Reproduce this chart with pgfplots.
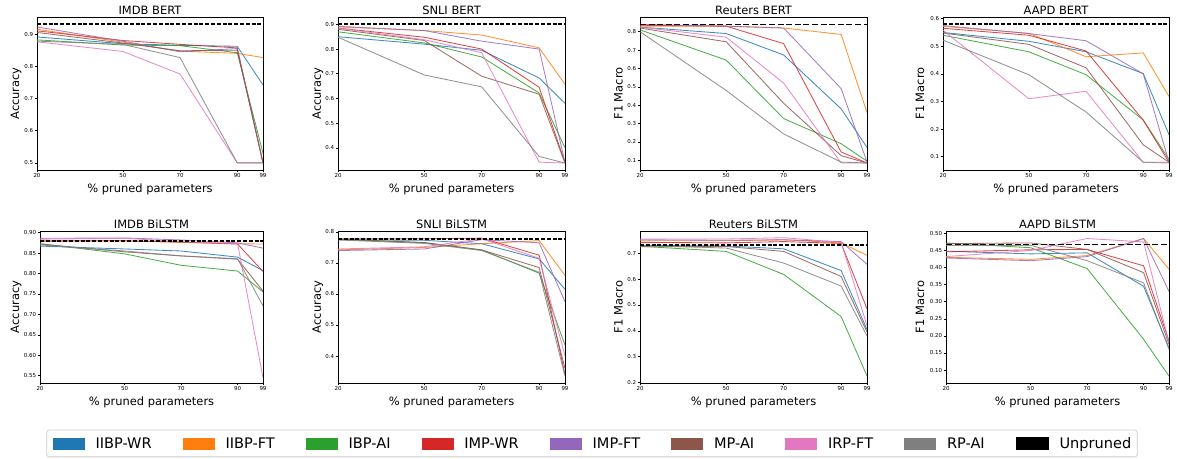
\documentclass[border=0pt]{standalone}
\usepackage{pgfplots}
\pgfplotsset{compat=1.18}
\usepackage{fontspec}
\setmainfont{DejaVu Sans}
\definecolor{c0}{HTML}{1F77B4}
\definecolor{c1}{HTML}{FF7F0E}
\definecolor{c2}{HTML}{2CA02C}
\definecolor{c3}{HTML}{D62728}
\definecolor{c4}{HTML}{9467BD}
\definecolor{c5}{HTML}{8C564B}
\definecolor{c6}{HTML}{E377C2}
\definecolor{c7}{HTML}{7F7F7F}
\definecolor{legbd}{HTML}{CCCCCC}
\pgfplotsset{
  every axis title shift=0pt,
  panel/.style={
    scale only axis, anchor=south west,
    xmin=20, xmax=99, xtick={20,50,70,90,99},
    tick align=outside, xtick pos=bottom, ytick pos=left,
    major tick length=2.2bp,
    every tick/.style={black, line width=0.5bp},
    axis line style={black, line width=0.9bp},
    ticklabel style={font=\fontsize{5.5}{6}\selectfont, inner sep=1.5bp},
    /pgf/number format/assume math mode=true,
    title style={font=\fontsize{11.5}{13}\selectfont, at={(axis description cs:0.5,1)}, anchor=base, yshift=2.4bp, inner sep=0pt},
    xlabel={\% pruned parameters},
    xlabel style={font=\fontsize{11.5}{13}\selectfont, at={(axis description cs:0.5,0)}, anchor=base, yshift=-22.3bp, inner sep=0pt},
    every axis plot/.append style={line width=0.85bp, no markers, opacity=0.85},
    cycle list={{c0},{c1},{c2},{c3},{c4},{c5},{c6},{c7}},
  },
  ylab/.style={ylabel style={font=\fontsize{11.5}{13}\selectfont, at={(axis description cs:-#1,0.5)}, anchor=base, inner sep=0pt}},
  yprec/.style={yticklabel={\pgfmathprintnumber[fixed,fixed zerofill,precision=#1]{\tick}}},
  unthick/.style={black, opacity=1, line width=1.8bp, dash pattern=on 4bp off 1.8bp},
  unthin/.style={black, opacity=1, line width=1.2bp, dash pattern=on 6bp off 2.6bp},
}
\begin{document}
\begin{tikzpicture}[x=1bp,y=1bp]
\useasboundingbox (0,0) rectangle (1177,459);
% ---------------- IMDB BERT
\begin{axis}[panel, at={(37bp,289bp)}, width=226bp, height=153bp,
  title={IMDB BERT}, ylabel={Accuracy}, ylab=0.0788, yprec=1,
  ymin=0.478, ymax=0.953, ytick={0.5,0.6,0.7,0.8,0.9}]
\addplot coordinates {(20,0.891) (50,0.870) (70,0.865) (90,0.862) (99,0.742)};
\addplot coordinates {(20,0.915) (50,0.875) (70,0.847) (90,0.840) (99,0.827)};
\addplot coordinates {(20,0.882) (50,0.866) (70,0.864) (90,0.842) (99,0.530)};
\addplot coordinates {(20,0.910) (50,0.880) (70,0.868) (90,0.857) (99,0.500)};
\addplot coordinates {(20,0.922) (50,0.878) (70,0.845) (90,0.855) (99,0.500)};
\addplot coordinates {(20,0.905) (50,0.872) (70,0.848) (90,0.850) (99,0.500)};
\addplot coordinates {(20,0.876) (50,0.846) (70,0.776) (90,0.500) (99,0.500)};
\addplot coordinates {(20,0.878) (50,0.868) (70,0.827) (90,0.500) (99,0.500)};
\addplot[unthick] coordinates {(20,0.931) (99,0.931)};
\end{axis}
% ---------------- SNLI BERT
\begin{axis}[panel, at={(338bp,289bp)}, width=227bp, height=153bp,
  title={SNLI BERT}, ylabel={Accuracy}, ylab=0.0753, yprec=1,
  ymin=0.310, ymax=0.930, ytick={0.4,0.5,0.6,0.7,0.8,0.9}]
\addplot coordinates {(20,0.850) (50,0.820) (70,0.795) (90,0.683) (99,0.580)};
\addplot coordinates {(20,0.890) (50,0.875) (70,0.857) (90,0.805) (99,0.657)};
\addplot coordinates {(20,0.870) (50,0.825) (70,0.768) (90,0.622) (99,0.400)};
\addplot coordinates {(20,0.885) (50,0.848) (70,0.800) (90,0.645) (99,0.340)};
\addplot coordinates {(20,0.892) (50,0.875) (70,0.832) (90,0.800) (99,0.340)};
\addplot coordinates {(20,0.880) (50,0.835) (70,0.690) (90,0.617) (99,0.338)};
\addplot coordinates {(20,0.885) (50,0.838) (70,0.785) (90,0.342) (99,0.338)};
\addplot coordinates {(20,0.848) (50,0.695) (70,0.647) (90,0.365) (99,0.338)};
\addplot[unthick] coordinates {(20,0.900) (99,0.900)};
\end{axis}
% ---------------- Reuters BERT
\begin{axis}[panel, at={(640bp,289bp)}, width=227bp, height=153bp,
  title={Reuters BERT}, ylabel={F1 Macro}, ylab=0.0771, yprec=1,
  ymin=0.047, ymax=0.880, ytick={0.1,0.2,0.3,0.4,0.5,0.6,0.7,0.8}]
\addplot coordinates {(20,0.825) (50,0.790) (70,0.673) (90,0.380) (99,0.170)};
\addplot coordinates {(20,0.830) (50,0.830) (70,0.820) (90,0.785) (99,0.360)};
\addplot coordinates {(20,0.810) (50,0.645) (70,0.327) (90,0.190) (99,0.095)};
\addplot coordinates {(20,0.835) (50,0.830) (70,0.735) (90,0.145) (99,0.085)};
\addplot coordinates {(20,0.840) (50,0.830) (70,0.820) (90,0.490) (99,0.090)};
\addplot coordinates {(20,0.820) (50,0.745) (70,0.410) (90,0.125) (99,0.085)};
\addplot coordinates {(20,0.825) (50,0.770) (70,0.520) (90,0.085) (99,0.085)};
\addplot coordinates {(20,0.800) (50,0.480) (70,0.243) (90,0.090) (99,0.085)};
\addplot[unthin] coordinates {(20,0.838) (99,0.838)};
\end{axis}
% ---------------- AAPD BERT
\begin{axis}[panel, at={(943bp,289bp)}, width=226bp, height=153bp,
  title={AAPD BERT}, ylabel={F1 Macro}, ylab=0.0832, yprec=1,
  ymin=0.052, ymax=0.606, ytick={0.1,0.2,0.3,0.4,0.5,0.6}]
\addplot coordinates {(20,0.550) (50,0.518) (70,0.480) (90,0.401) (99,0.180)};
\addplot coordinates {(20,0.572) (50,0.547) (70,0.462) (90,0.476) (99,0.318)};
\addplot coordinates {(20,0.540) (50,0.480) (70,0.397) (90,0.233) (99,0.090)};
\addplot coordinates {(20,0.565) (50,0.540) (70,0.483) (90,0.232) (99,0.080)};
\addplot coordinates {(20,0.575) (50,0.546) (70,0.520) (90,0.400) (99,0.080)};
\addplot coordinates {(20,0.548) (50,0.507) (70,0.422) (90,0.143) (99,0.080)};
\addplot coordinates {(20,0.558) (50,0.310) (70,0.337) (90,0.080) (99,0.077)};
\addplot coordinates {(20,0.522) (50,0.397) (70,0.262) (90,0.080) (99,0.080)};
\addplot[unthick] coordinates {(20,0.581) (99,0.581)};
\end{axis}
% ---------------- IMDB BiLSTM
\begin{axis}[panel, at={(40bp,76bp)}, width=223bp, height=152bp,
  title={IMDB BiLSTM}, ylabel={Accuracy}, ylab=0.0933, yprec=2,
  ymin=0.532, ymax=0.904, ytick={0.55,0.60,0.65,0.70,0.75,0.80,0.85,0.90},
  legend columns=9,
  legend style={at={(2.4753,-0.398)}, anchor=center, draw=legbd, line width=0.8bp, rounded corners=2.5bp, fill=white,
    font=\fontsize{14.6}{16}\selectfont, inner xsep=6bp, inner ysep=7bp,
    /tikz/every odd column/.append style={column sep=11bp},
    /tikz/every even column/.append style={column sep=31bp},
    nodes={inner sep=0pt, text depth=0pt, text height=10.5bp, anchor=center}},
  legend image code/.code={\fill[#1,solid,opacity=1,sharp corners] (0bp,-5.5bp) rectangle (31bp,5.5bp);},
  ]
\addplot coordinates {(20,0.867) (50,0.860) (70,0.855) (90,0.840) (99,0.807)};
\addlegendentry{IIBP-WR}
\addplot coordinates {(20,0.878) (50,0.880) (70,0.876) (90,0.873) (99,0.872)};
\addlegendentry{IIBP-FT}
\addplot coordinates {(20,0.873) (50,0.848) (70,0.820) (90,0.806) (99,0.755)};
\addlegendentry{IBP-AI}
\addplot coordinates {(20,0.880) (50,0.880) (70,0.877) (90,0.872) (99,0.805)};
\addlegendentry{IMP-WR}
\addplot coordinates {(20,0.886) (50,0.887) (70,0.882) (90,0.875) (99,0.862)};
\addlegendentry{IMP-FT}
\addplot coordinates {(20,0.872) (50,0.853) (70,0.843) (90,0.835) (99,0.757)};
\addlegendentry{MP-AI}
\addplot coordinates {(20,0.884) (50,0.886) (70,0.878) (90,0.873) (99,0.545)};
\addlegendentry{IRP-FT}
\addplot coordinates {(20,0.870) (50,0.855) (70,0.843) (90,0.836) (99,0.721)};
\addlegendentry{RP-AI}
\addplot[unthick] coordinates {(20,0.879) (99,0.879)};
\addlegendentry{Unpruned}
\end{axis}
% ---------------- SNLI BiLSTM
\begin{axis}[panel, at={(338bp,76bp)}, width=227bp, height=152bp,
  title={SNLI BiLSTM}, ylabel={Accuracy}, ylab=0.0753, yprec=1,
  ymin=0.313, ymax=0.803, ytick={0.4,0.5,0.6,0.7,0.8}]
\addplot coordinates {(20,0.775) (50,0.773) (70,0.762) (90,0.713) (99,0.615)};
\addplot coordinates {(20,0.742) (50,0.750) (70,0.762) (90,0.772) (99,0.660)};
\addplot coordinates {(20,0.776) (50,0.765) (70,0.742) (90,0.667) (99,0.435)};
\addplot coordinates {(20,0.778) (50,0.778) (70,0.780) (90,0.725) (99,0.340)};
\addplot coordinates {(20,0.740) (50,0.745) (70,0.775) (90,0.765) (99,0.575)};
\addplot coordinates {(20,0.777) (50,0.766) (70,0.742) (90,0.685) (99,0.360)};
\addplot coordinates {(20,0.745) (50,0.752) (70,0.778) (90,0.715) (99,0.400)};
\addplot coordinates {(20,0.774) (50,0.763) (70,0.740) (90,0.670) (99,0.335)};
\addplot[unthick] coordinates {(20,0.777) (99,0.777)};
\end{axis}
% ---------------- Reuters BiLSTM
\begin{axis}[panel, at={(640bp,76bp)}, width=227bp, height=152bp,
  title={Reuters BiLSTM}, ylabel={F1 Macro}, ylab=0.0771, yprec=1,
  ymin=0.198, ymax=0.786, ytick={0.2,0.3,0.4,0.5,0.6,0.7}]
\addplot coordinates {(20,0.730) (50,0.728) (70,0.717) (90,0.633) (99,0.405)};
\addplot coordinates {(20,0.748) (50,0.748) (70,0.752) (90,0.740) (99,0.692)};
\addplot coordinates {(20,0.727) (50,0.707) (70,0.618) (90,0.455) (99,0.225)};
\addplot coordinates {(20,0.742) (50,0.740) (70,0.745) (90,0.738) (99,0.485)};
\addplot coordinates {(20,0.752) (50,0.750) (70,0.752) (90,0.745) (99,0.657)};
\addplot coordinates {(20,0.725) (50,0.726) (70,0.707) (90,0.610) (99,0.395)};
\addplot coordinates {(20,0.755) (50,0.755) (70,0.760) (90,0.742) (99,0.420)};
\addplot coordinates {(20,0.730) (50,0.720) (70,0.662) (90,0.573) (99,0.380)};
\addplot[unthick] coordinates {(20,0.732) (99,0.732)};
\end{axis}
% ---------------- AAPD BiLSTM
\begin{axis}[panel, at={(946bp,76bp)}, width=223bp, height=152bp,
  title={AAPD BiLSTM}, ylabel={F1 Macro}, ylab=0.0978, yprec=2,
  ymin=0.062, ymax=0.507, ytick={0.10,0.15,0.20,0.25,0.30,0.35,0.40,0.45,0.50}]
\addplot coordinates {(20,0.448) (50,0.440) (70,0.443) (90,0.345) (99,0.165)};
\addplot coordinates {(20,0.430) (50,0.424) (70,0.435) (90,0.485) (99,0.395)};
\addplot coordinates {(20,0.472) (50,0.458) (70,0.397) (90,0.190) (99,0.082)};
\addplot coordinates {(20,0.446) (50,0.452) (70,0.453) (90,0.405) (99,0.185)};
\addplot coordinates {(20,0.428) (50,0.420) (70,0.432) (90,0.485) (99,0.330)};
\addplot coordinates {(20,0.470) (50,0.472) (70,0.453) (90,0.385) (99,0.175)};
\addplot coordinates {(20,0.432) (50,0.450) (70,0.485) (90,0.475) (99,0.180)};
\addplot coordinates {(20,0.465) (50,0.465) (70,0.420) (90,0.355) (99,0.160)};
\addplot[unthin] coordinates {(20,0.468) (99,0.468)};
\end{axis}
\end{tikzpicture}
\end{document}
